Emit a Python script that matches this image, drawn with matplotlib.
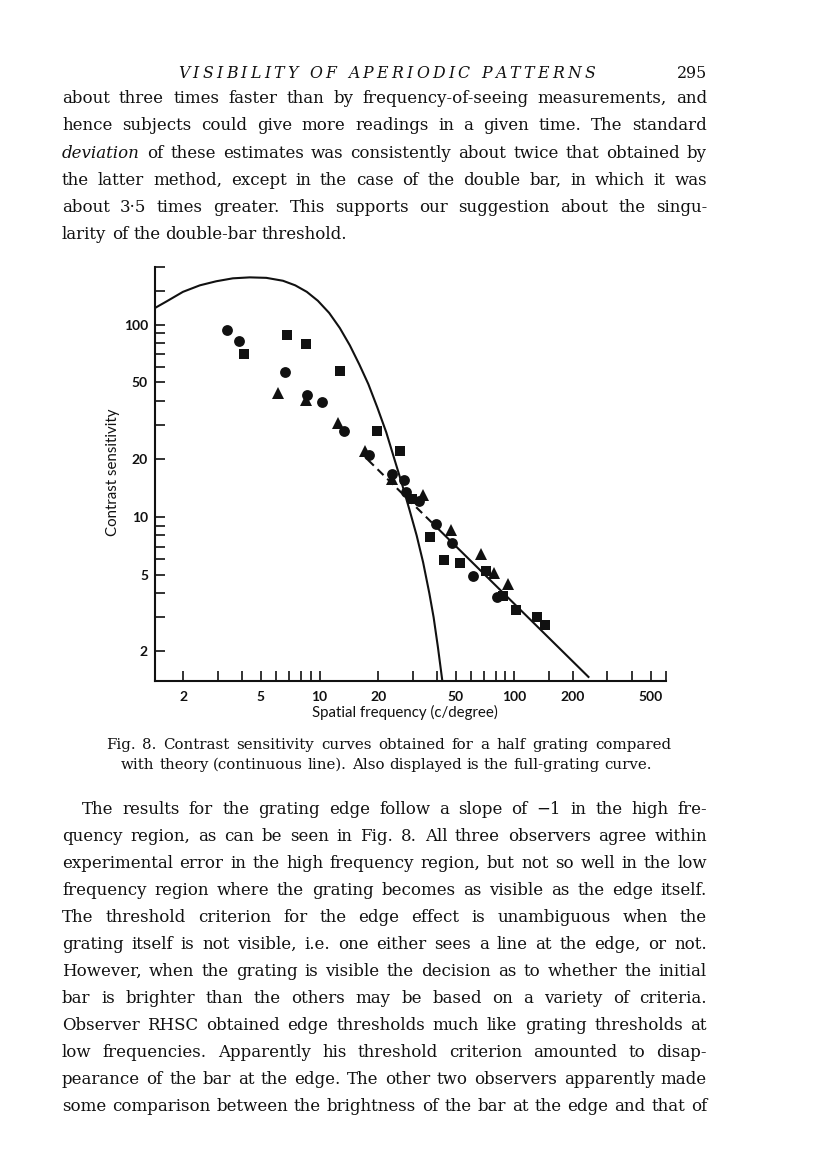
import matplotlib
matplotlib.use('Agg')
import matplotlib.pyplot as plt
from matplotlib.ticker import FixedLocator, FixedFormatter, NullLocator

# ---- chart data ----
# theory (continuous line)
theory_x = [1.43, 1.64, 1.99, 2.43, 2.95, 3.59, 4.38, 5.33, 6.49, 7.5, 8.6, 9.8,
            11.2, 12.7, 14.3, 16.0, 17.8, 19.8, 22.0, 24.2, 26.5, 29.0, 31.5,
            34.0, 36.6, 38.5, 40.5, 42.6]
theory_y = [122, 132, 148, 160, 168, 174, 176, 175, 169, 160, 148, 133,
            115, 96, 78, 62, 49, 37, 27.5, 20, 14.8, 10.8, 8.0,
            5.8, 4.0, 3.0, 2.1, 1.42]

# full-grating curve (slope -1), dashed part then solid part
full_dash_x = [17.7, 40]
full_dash_y = [19.8, 8.8]
full_solid_x = [40, 240]
full_solid_y = [8.8, 1.47]

# half grating, three observers
circ_x = [3.33, 3.85, 6.67, 8.61, 10.3, 13.3, 18.0, 23.6, 27.0, 27.8, 32.2, 39.4, 48.0, 61.1, 81.2]
circ_y = [93.3, 82.6, 56.8, 43.2, 39.7, 28.1, 21.0, 16.8, 15.6, 13.4, 12.1, 9.16, 7.35, 4.94, 3.82]

sq_x = [4.07, 6.77, 8.51, 12.8, 19.6, 26.0, 29.9, 37.0, 43.7, 52.7, 71.6, 87.1, 102, 130, 144]
sq_y = [70.4, 88.4, 79.6, 57.5, 28.1, 22.1, 12.4, 7.89, 5.97, 5.74, 5.24, 3.88, 3.28, 3.03, 2.74]

tri_x = [6.14, 8.55, 12.4, 17.1, 23.5, 33.9, 47.3, 67.4, 78.9, 92.5]
tri_y = [44.1, 40.4, 30.8, 22.1, 15.8, 13.0, 8.55, 6.40, 5.09, 4.46]

x_ticks = [2, 3, 4, 5, 6, 7, 8, 9, 10, 20, 30, 40, 50, 60, 70, 80, 90, 100,
           150, 200, 300, 400, 500, 600]
x_labeled = [2, 5, 10, 20, 50, 100, 200, 500]
y_ticks = [2, 3, 4, 5, 6, 7, 8, 9, 10, 20, 30, 40, 50, 60, 70, 80, 90, 100, 150, 200]
y_labeled = [2, 5, 10, 20, 50, 100]

# ---- page text ----
header = "VISIBILITY OF APERIODIC PATTERNS"
page_no = "295"
para1 = [
    "about three times faster than by frequency-of-seeing measurements, and",
    "hence subjects could give more readings in a given time. The standard",
    "*deviation* of these estimates was consistently about twice that obtained by",
    "the latter method, except in the case of the double bar, in which it was",
    "about 3·5 times greater. This supports our suggestion about the singu-",
    "larity of the double-bar threshold.",
]
caption = [
    "Fig. 8. Contrast sensitivity curves obtained for a half grating compared",
    "with theory (continuous line). Also displayed is the full-grating curve.",
]
para2 = [
    "The results for the grating edge follow a slope of −1 in the high fre-",
    "quency region, as can be seen in Fig. 8. All three observers agree within",
    "experimental error in the high frequency region, but not so well in the low",
    "frequency region where the grating becomes as visible as the edge itself.",
    "The threshold criterion for the edge effect is unambiguous when the",
    "grating itself is not visible, i.e. one either sees a line at the edge, or not.",
    "However, when the grating is visible the decision as to whether the initial",
    "bar is brighter than the others may be based on a variety of criteria.",
    "Observer RHSC obtained edge thresholds much like grating thresholds at",
    "low frequencies. Apparently his threshold criterion amounted to disap-",
    "pearance of the bar at the edge. The other two observers apparently made",
    "some comparison between the brightness of the bar at the edge and that of",
]

W, H = 816, 1176
SERIF = 'DejaVu Serif'
SANS = 'Lato'
INK = '#111111'

fig = plt.figure(figsize=(W / 100, H / 100), dpi=100)
fig.patch.set_facecolor('white')
r = fig.canvas.get_renderer()


def fx(px):
    return px / W


def fy(py):
    return 1 - py / H


def make_words(line, size, y):
    ts = []
    for w in line.split():
        it = w.startswith('*') and w.endswith('*')
        ts.append(fig.text(0, fy(y), w.strip('*'), fontsize=size, family=SERIF,
                           style='italic' if it else 'normal', color=INK,
                           ha='left', va='baseline'))
    return ts


def space_width(size):
    a = fig.text(0, 0, 'n n', fontsize=size, family=SERIF)
    b = fig.text(0, 0, 'nn', fontsize=size, family=SERIF)
    s = a.get_window_extent(r).width - b.get_window_extent(r).width
    a.remove()
    b.remove()
    return s


def natural_ratio(lines, size, width):
    sp = space_width(size)
    worst = 0
    for line in lines:
        ts = make_words(line, size, 0)
        tot = sum(t.get_window_extent(r).width for t in ts) + sp * (len(ts) - 1)
        for t in ts:
            t.remove()
        worst = max(worst, tot / width)
    return worst


def put_line(line, x0, x1, y, size, justify=True):
    ts = make_words(line, size, y)
    ws = [t.get_window_extent(r).width for t in ts]
    if justify and len(ts) > 1:
        gap = (x1 - x0 - sum(ws)) / (len(ts) - 1)
    else:
        gap = space_width(size)
    x = x0
    for t, w in zip(ts, ws):
        t.set_x(fx(x))
        x += w + gap


def put_tracked(text, x0, x1, y, size):
    # letter-spaced italic running head
    ts = [fig.text(0, fy(y), ch, fontsize=size, family=SERIF, style='italic',
                   color=INK, ha='left', va='baseline') for ch in text]
    ws = [t.get_window_extent(r).width if ch != ' ' else space_width(size)
          for t, ch in zip(ts, text)]
    gap = (x1 - x0 - sum(ws)) / (len(ts) - 1)
    x = x0
    for t, w in zip(ts, ws):
        t.set_x(fx(x))
        x += w + gap


LEFT, RIGHT = 62, 707
ratio = natural_ratio(para1[:-1] + para2[1:], 12, RIGHT - LEFT)
body = 12 * 0.985 / ratio
cap = body * 0.9

# running head
put_tracked(header, 178, 595, 78.3, 11.3)
fig.text(fx(RIGHT), fy(78.3), page_no, fontsize=11.3, family=SERIF, color=INK,
         ha='right', va='baseline')

y = 103.3
for i, line in enumerate(para1):
    put_line(line, LEFT, RIGHT, y, body, justify=(i < len(para1) - 1))
    y += 27.2

put_line(caption[0], 106, 671, 749, cap, justify=True)
put_line(caption[1], 121, 671, 769, cap, justify=False)

y = 814
for i, line in enumerate(para2):
    put_line(line, LEFT + 20 if i == 0 else LEFT, RIGHT, y, body, justify=True)
    y += 27.0

# ---- the chart ----
ax = fig.add_axes([fx(155), fy(681), (666 - 155) / W, (681 - 266.7) / H])
ax.set_xscale('log')
ax.set_yscale('log')

ax.plot(theory_x, theory_y, color=INK, lw=1.5, solid_joinstyle='round')
ax.plot(full_dash_x, full_dash_y, color=INK, lw=1.5, dashes=(4, 2.5))
ax.plot(full_solid_x, full_solid_y, color=INK, lw=1.5)
ax.plot(circ_x, circ_y, 'o', color=INK, ms=7.8, mew=0, clip_on=False)
ax.plot(sq_x, sq_y, 's', color=INK, ms=7.2, mew=0, clip_on=False)
ax.plot(tri_x, tri_y, '^', color=INK, ms=8.8, mew=0, clip_on=False)

ax.set_xlim(1.43, 600)
ax.set_ylim(1.40, 200)

ax.xaxis.set_major_locator(FixedLocator(x_ticks))
ax.xaxis.set_major_formatter(FixedFormatter([str(v) if v in x_labeled else '' for v in x_ticks]))
ax.yaxis.set_major_locator(FixedLocator(y_ticks))
ax.yaxis.set_major_formatter(FixedFormatter([str(v) if v in y_labeled else '' for v in y_ticks]))
ax.xaxis.set_minor_locator(NullLocator())
ax.yaxis.set_minor_locator(NullLocator())

for s in ['top', 'right']:
    ax.spines[s].set_visible(False)
for s in ['left', 'bottom']:
    ax.spines[s].set_linewidth(1.5)
    ax.spines[s].set_color(INK)

ax.tick_params(direction='in', length=7, width=1.2, color=INK, labelcolor=INK)
ax.tick_params(axis='x', pad=7)
ax.tick_params(axis='y', pad=5)
for lab in ax.get_xticklabels() + ax.get_yticklabels():
    lab.set_family(SANS)
    lab.set_fontweight('bold')
    lab.set_fontsize(10)
ax.patch.set_alpha(0)

fig.text(fx(113), fy(472), 'Contrast sensitivity', rotation=90, family=SANS,
         fontsize=10.8, color=INK, ha='center', va='center')
fig.text(fx(405), fy(712), 'Spatial frequency (c/degree)', family=SANS,
         fontsize=10.8, color=INK, ha='center', va='center')

fig.savefig('out.png', dpi=100, facecolor='white')
